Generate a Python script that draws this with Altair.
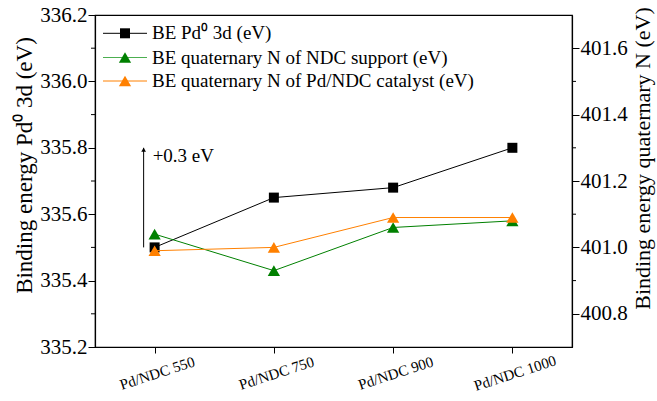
import altair as alt
import pandas as pd

samples = ["Pd/NDC 550", "Pd/NDC 750", "Pd/NDC 900", "Pd/NDC 1000"]
be_pd = [335.50, 335.65, 335.68, 335.80]
be_n_support = [401.04, 400.93, 401.06, 401.08]
be_n_catalyst = [400.99, 401.00, 401.09, 401.09]

left_ticks = [335.2, 335.4, 335.6, 335.8, 336.0, 336.2]
left_minor = [335.3, 335.5, 335.7, 335.9, 336.1]
right_ticks = [400.8, 401.0, 401.2, 401.4, 401.6]
right_minor = [400.9, 401.1, 401.3, 401.5]

legend_labels = ["BE Pd⁰ 3d (eV)",
                 "BE quaternary N of NDC support (eV)",
                 "BE quaternary N of Pd/NDC catalyst (eV)"]
colors = ["#000000", "#008000", "#FF8000"]
legend_line_colors = ["#000000", "#4CAF50", "#FF8000"]
shapes = ["square", "triangle-up", "triangle-up"]

arrow_start = 335.5
arrow_end = 335.8
arrow_label = "+0.3 eV"

FONT = "Liberation Serif, Times New Roman, serif"
W, H = 477, 332

df_pd = pd.DataFrame({"sample": samples, "v": be_pd})
df_n = pd.DataFrame({
    "sample": samples + samples,
    "v": be_n_support + be_n_catalyst,
    "series": [legend_labels[1]] * 4 + [legend_labels[2]] * 4,
})

xenc = alt.X("sample:N", sort=samples,
             scale=alt.Scale(type="point", padding=0.5),
             axis=alt.Axis(title=None, labelAngle=342, labelFont=FONT, labelFontSize=15,
                           labelColor="black", labelAlign="center", labelBaseline="top",
                           labelPadding=13, tickSize=6, tickColor="black",
                           domainColor="black", domainWidth=1.2, grid=False))

yleft_scale = alt.Scale(domain=[335.2, 336.2], nice=False, zero=False)
yright_scale = alt.Scale(domain=[400.7, 401.7], nice=False, zero=False)

left_axis = alt.Axis(title="Binding energy Pd⁰ 3d (eV)", values=left_ticks, format=".1f",
                     labelFont=FONT, labelFontSize=21, labelColor="black",
                     titleFont=FONT, titleFontSize=23, titleFontWeight="normal",
                     titleColor="black", titlePadding=3, titleY=150,
                     tickSize=7, tickColor="black", domainColor="black",
                     domainWidth=1.2, labelPadding=1, grid=False)
right_axis = alt.Axis(title="Binding energy quaternary N (eV)", orient="right",
                      values=right_ticks, format=".1f",
                      labelFont=FONT, labelFontSize=21, labelColor="black",
                      titleFont=FONT, titleFontSize=22, titleFontWeight="normal",
                      titleColor="black", titleAngle=270, titlePadding=27, titleY=143,
                      tickSize=7, tickColor="black", domainColor="black",
                      domainWidth=1.2, labelPadding=1, grid=False)

# Left group (Pd 3d)
pd_base = alt.Chart(df_pd).encode(x=xenc, y=alt.Y("v:Q", scale=yleft_scale, axis=left_axis))
pd_line = pd_base.mark_line(color="black", strokeWidth=1)
pd_pts = pd_base.mark_point(shape="square", filled=True, size=100, color="black", opacity=1)

lminor = alt.Chart(pd.DataFrame({"v": left_minor})).mark_rule(color="black", strokeWidth=1).encode(
    y=alt.Y("v:Q"), x=alt.value(0), x2=alt.value(-4))

arrow_df = pd.DataFrame({"sample": [samples[0]], "v": [arrow_end], "v0": [arrow_start],
                         "label": [arrow_label]})
arrow_rule = alt.Chart(arrow_df).mark_rule(color="black", strokeWidth=1, xOffset=-11).encode(
    x=xenc, y=alt.Y("v:Q"), y2="v0:Q")
arrow_head = alt.Chart(arrow_df).mark_point(shape="triangle-up", filled=True, size=22, color="black",
                                            opacity=1, xOffset=-11, yOffset=2).encode(
    x=xenc, y=alt.Y("v:Q"))
arrow_text = alt.Chart(arrow_df).mark_text(font=FONT, fontSize=19, color="black", align="left",
                                           baseline="middle", dx=-2, dy=8).encode(
    x=xenc, y=alt.Y("v:Q"), text="label:N")

# Legend
leg_rows = [18.3, 42.5, 66]
legend_layers = []
for lab, col, lcol, shp, yy in zip(legend_labels, colors, legend_line_colors, shapes, leg_rows):
    d = pd.DataFrame({"label": [lab]})
    legend_layers.append(alt.Chart(d).mark_rule(color=lcol, strokeWidth=1).encode(
        x=alt.value(8), x2=alt.value(52), y=alt.value(yy)))
    legend_layers.append(alt.Chart(d).mark_point(shape=shp, filled=True, opacity=1, color=col,
                                                 size=100 if shp == "square" else 150).encode(
        x=alt.value(30), y=alt.value(yy)))
    legend_layers.append(alt.Chart(d).mark_text(font=FONT, fontSize=19, color="black", align="left",
                                                baseline="middle").encode(
        x=alt.value(57), y=alt.value(yy), text="label:N"))

left = alt.layer(pd_line, pd_pts, lminor, arrow_rule, arrow_head, arrow_text, *legend_layers)

# Right group (N)
color_scale = alt.Scale(domain=legend_labels[1:], range=colors[1:])
n_base = alt.Chart(df_n).encode(
    x=xenc, y=alt.Y("v:Q", scale=yright_scale, axis=right_axis),
    color=alt.Color("series:N", scale=color_scale, legend=None))
n_line = n_base.mark_line(strokeWidth=1)
n_pts = n_base.mark_point(shape="triangle-up", filled=True, size=150, opacity=1)
rminor = alt.Chart(pd.DataFrame({"v": right_minor})).mark_rule(color="black", strokeWidth=1).encode(
    y=alt.Y("v:Q"), x=alt.value(W), x2=alt.value(W + 4))

right = alt.layer(n_line, n_pts, rminor)

chart = alt.layer(left, right).resolve_scale(y="independent").properties(
    width=W, height=H,
    autosize=alt.AutoSizeParams(type="none"),
    padding={"left": 95, "top": 15, "right": 85, "bottom": 54},
    background="white",
).configure_view(stroke="black", strokeWidth=1.2)

chart.save("out.html", embed_options={"renderer": "svg", "actions": False})
